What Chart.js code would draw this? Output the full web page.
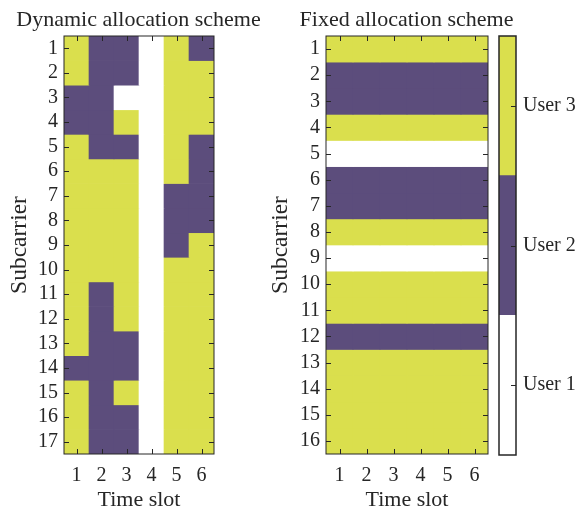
<!DOCTYPE html>
<html>
<head>
<meta charset="utf-8">
<script src="https://cdn.jsdelivr.net/npm/chart.js@4.4.1/dist/chart.umd.min.js"></script>
<style>
  html, body { margin: 0; padding: 0; background: #ffffff; }
  #wrap { position: relative; width: 583px; height: 510px; overflow: hidden; }
  canvas { position: absolute; top: 0; }
</style>
</head>
<body>
<div id="wrap">
  <canvas id="dynamic" width="277" height="510" style="left:0px"></canvas>
  <canvas id="fixed" width="273" height="510" style="left:270px"></canvas>
  <canvas id="legendBar" width="93" height="510" style="left:490px"></canvas>
</div>
<script>
// Allocation maps: 1 = User 1, 2 = User 2, 3 = User 3
const timeSlots = ['1', '2', '3', '4', '5', '6'];
const userIds = [1, 2, 3];
const userLabels = ['User 1', 'User 2', 'User 3'];
const userColors = ['#ffffff', '#5c4d7c', '#dadf4d'];

const dynamicSubcarriers = [1, 2, 3, 4, 5, 6, 7, 8, 9, 10, 11, 12, 13, 14, 15, 16, 17];
const fixedSubcarriers = [1, 2, 3, 4, 5, 6, 7, 8, 9, 10, 11, 12, 13, 14, 15, 16];

// Dynamic scheme: user per subcarrier (1..17) for each time slot
const dynamicSlot1 = [3, 3, 2, 2, 3, 3, 3, 3, 3, 3, 3, 3, 3, 2, 3, 3, 3];
const dynamicSlot2 = [2, 2, 2, 2, 2, 3, 3, 3, 3, 3, 2, 2, 2, 2, 2, 2, 2];
const dynamicSlot3 = [2, 2, 1, 3, 2, 3, 3, 3, 3, 3, 3, 3, 2, 2, 3, 2, 2];
const dynamicSlot4 = [1, 1, 1, 1, 1, 1, 1, 1, 1, 1, 1, 1, 1, 1, 1, 1, 1];
const dynamicSlot5 = [3, 3, 3, 3, 3, 3, 2, 2, 2, 3, 3, 3, 3, 3, 3, 3, 3];
const dynamicSlot6 = [2, 3, 3, 3, 2, 2, 2, 2, 3, 3, 3, 3, 3, 3, 3, 3, 3];

// Fixed scheme: the same user per subcarrier (1..16) in every time slot
const fixedBySubcarrier = [3, 2, 2, 3, 1, 2, 2, 3, 1, 3, 3, 2, 3, 3, 3, 3];

const dynamicColumns = [dynamicSlot1, dynamicSlot2, dynamicSlot3, dynamicSlot4, dynamicSlot5, dynamicSlot6];
const fixedColumns = timeSlots.map(() => fixedBySubcarrier);

const FONT = "'Liberation Serif', 'Times New Roman', serif";
const TEXT = '#262626';

// One floating-bar dataset per subcarrier row; each bar is one cell.
function cellDatasets(columns, subcarriers) {
  return subcarriers.map((sc, r) => ({
    data: columns.map(() => [sc - 0.5, sc + 0.5]),
    backgroundColor: columns.map(col => userColors[col[r] - 1]),
    borderWidth: 0,
    grouped: false,
    barPercentage: 1,
    categoryPercentage: 1
  }));
}

// Box around the plot area with inward tick marks
const framePlugin = {
  id: 'frame',
  afterDatasetsDraw(chart, args, opts) {
    const { ctx, chartArea: a } = chart;
    ctx.save();
    ctx.strokeStyle = opts.color;
    ctx.lineWidth = opts.width;
    ctx.strokeRect(a.left, a.top, a.right - a.left, a.bottom - a.top);
    ctx.beginPath();
    const L = opts.tick;
    const ys = chart.scales.y;
    ys.ticks.forEach((t, i) => {
      const p = Math.round(ys.getPixelForTick(i)) + 0.5;
      if (opts.left) { ctx.moveTo(a.left, p); ctx.lineTo(a.left + L, p); }
      if (opts.right) { ctx.moveTo(a.right, p); ctx.lineTo(a.right - L, p); }
    });
    if (opts.xTicks) {
      const xs = chart.scales.x;
      xs.ticks.forEach((t, i) => {
        const p = Math.round(xs.getPixelForTick(i)) + 0.5;
        ctx.moveTo(p, a.top); ctx.lineTo(p, a.top + L);
        ctx.moveTo(p, a.bottom); ctx.lineTo(p, a.bottom - L);
      });
    }
    ctx.strokeStyle = opts.tickColor;
    ctx.lineWidth = 1;
    ctx.stroke();
    ctx.restore();
  }
};

function heatmapConfig(columns, subcarriers, titleText, leftWidth, rightWidth, yTitlePad) {
  return {
    type: 'bar',
    data: { labels: timeSlots, datasets: cellDatasets(columns, subcarriers) },
    options: {
      responsive: false,
      animation: false,
      devicePixelRatio: 1,
      events: [],
      layout: { padding: 0 },
      plugins: {
        legend: { display: false },
        tooltip: { enabled: false },
        title: {
          display: true,
          text: titleText,
          color: TEXT,
          font: { family: FONT, size: 22, weight: 'normal', lineHeight: '22px' },
          padding: { top: 9, bottom: 5 }
        },
        frame: { color: '#262626', width: 1, tick: 5, tickColor: '#262626', left: true, right: true, xTicks: true }
      },
      scales: {
        x: {
          type: 'category',
          offset: true,
          grid: { display: false, drawTicks: false },
          border: { display: false },
          ticks: { color: TEXT, font: { family: FONT, size: 20 }, padding: 10, maxRotation: 0, autoSkip: false },
          title: { display: true, text: 'Time slot', color: TEXT, font: { family: FONT, size: 22, lineHeight: '19px' }, padding: 0 },
          afterFit: s => { s.height = 56; }
        },
        y: {
          type: 'linear',
          reverse: true,
          min: subcarriers[0] - 0.5,
          max: subcarriers[subcarriers.length - 1] + 0.5,
          grid: { display: false, drawTicks: false },
          border: { display: false },
          afterBuildTicks: s => { s.ticks = subcarriers.map(v => ({ value: v })); },
          ticks: { color: TEXT, font: { family: FONT, size: 20 }, padding: 6, autoSkip: false },
          title: { display: true, text: 'Subcarrier', color: TEXT, font: { family: FONT, size: 23.5, lineHeight: '22px' }, padding: { top: yTitlePad, bottom: 0 } },
          afterFit: s => { s.width = leftWidth; }
        },
        // empty right-hand margin so the title stays centred over the plot
        margin: {
          type: 'linear',
          position: 'right',
          grid: { display: false, drawTicks: false },
          border: { display: false },
          ticks: { display: false },
          afterFit: s => { s.width = rightWidth; }
        }
      }
    },
    plugins: [framePlugin]
  };
}

new Chart(document.getElementById('dynamic'),
  heatmapConfig(dynamicColumns, dynamicSubcarriers, 'Dynamic allocation scheme', 64, 63, 8.6));

new Chart(document.getElementById('fixed'),
  heatmapConfig(fixedColumns, fixedSubcarriers, 'Fixed allocation scheme', 56, 55, 0));

// Colour key for the three users
new Chart(document.getElementById('legendBar'), {
  type: 'bar',
  data: {
    labels: [''],
    datasets: userIds.map((u, i) => ({
      data: [[u - 0.5, u + 0.5]],
      backgroundColor: userColors[i],
      borderWidth: 0,
      grouped: false,
      barPercentage: 1,
      categoryPercentage: 1
    }))
  },
  options: {
    responsive: false,
    animation: false,
    devicePixelRatio: 1,
    events: [],
    layout: { padding: { left: 9, right: 0, top: 36, bottom: 55 } },
    plugins: {
      legend: { display: false },
      tooltip: { enabled: false },
      frame: { color: '#262626', width: 1.5, tick: 5, tickColor: '#262626', left: false, right: true, xTicks: false }
    },
    scales: {
      x: { display: false, offset: true },
      y: {
        type: 'linear',
        position: 'right',
        min: 0.5,
        max: 3.5,
        grid: { display: false, drawTicks: false },
        border: { display: false },
        afterBuildTicks: s => { s.ticks = userIds.map(v => ({ value: v })); },
        ticks: { color: TEXT, font: { family: FONT, size: 20 }, padding: 7, callback: v => userLabels[v - 1] },
        afterFit: s => { s.width = 67; }
      }
    }
  },
  plugins: [framePlugin]
});
</script>
</body>
</html>
